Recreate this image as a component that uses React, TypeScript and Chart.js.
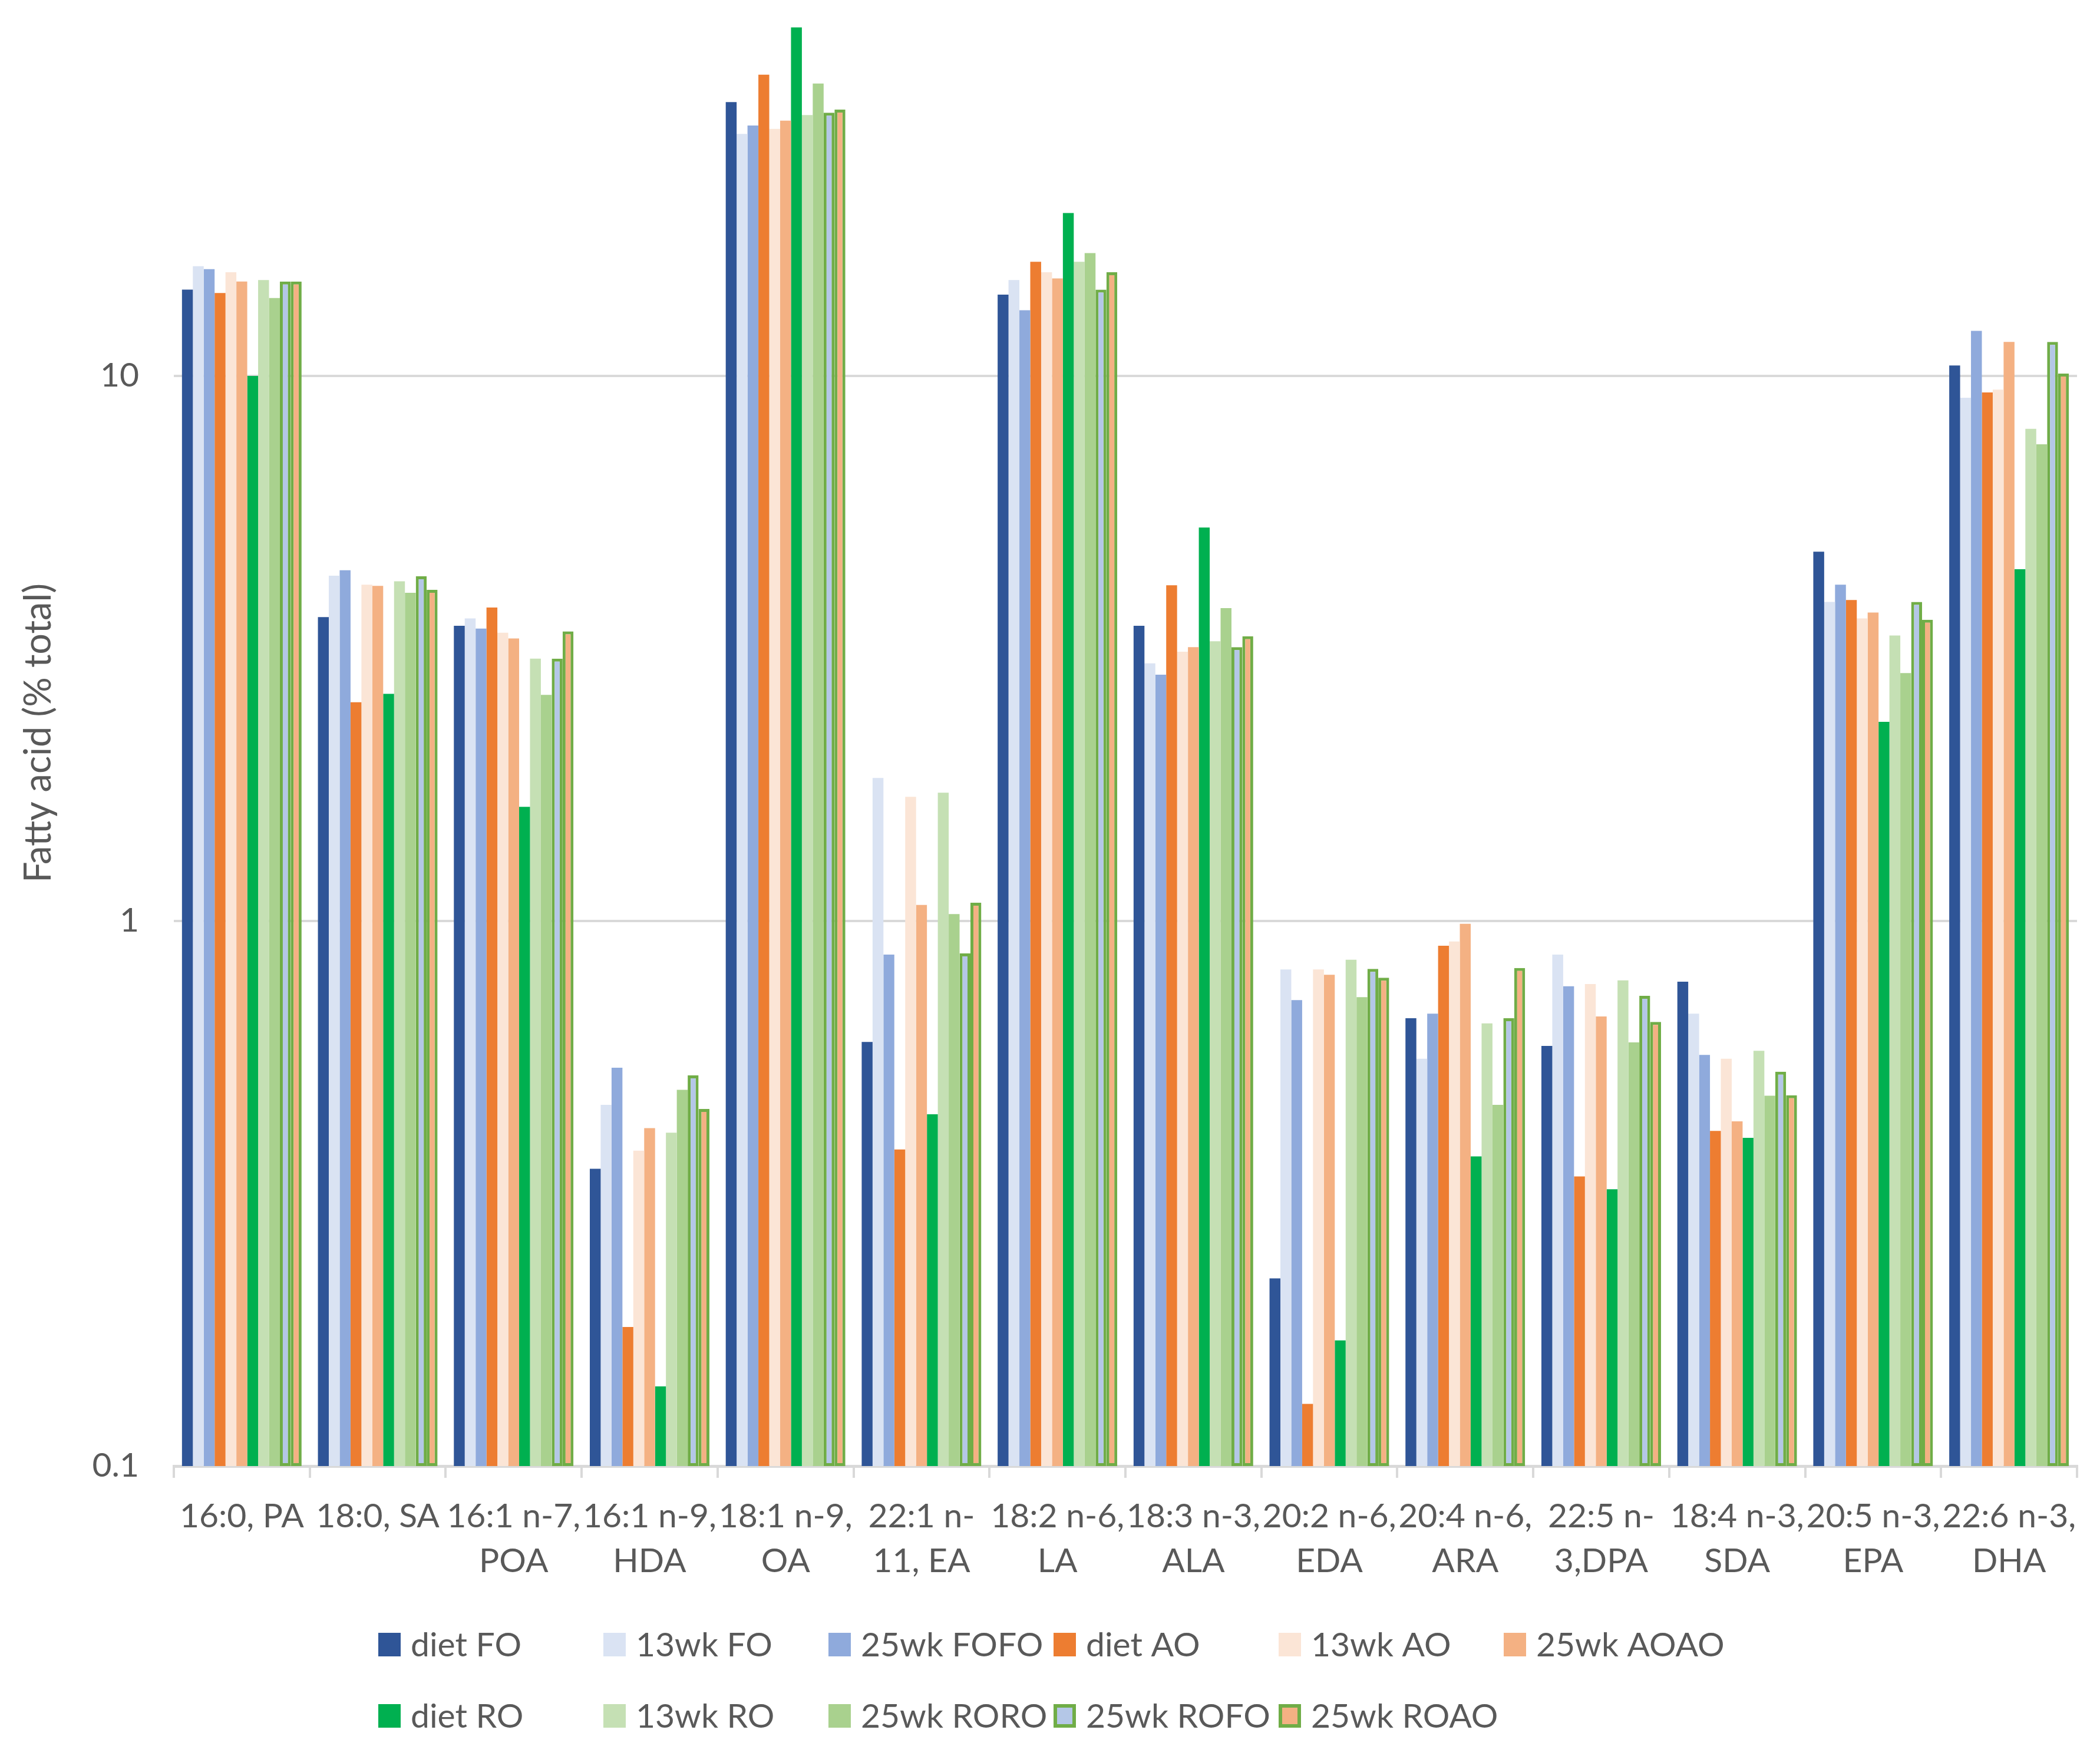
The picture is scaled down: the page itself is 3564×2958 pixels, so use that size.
import React, { useEffect, useRef } from "react";
import { Chart, registerables } from "chart.js";

Chart.register(...registerables);

const categories: (string | string[])[] = [
  "16:0, PA",
  "18:0, SA",
  ["16:1 n-7,", "POA"],
  ["16:1 n-9,", "HDA"],
  ["18:1 n-9,", "OA"],
  ["22:1 n-", "11, EA"],
  ["18:2 n-6,", "LA"],
  ["18:3 n-3,", "ALA"],
  ["20:2 n-6,", "EDA"],
  ["20:4 n-6,", "ARA"],
  ["22:5 n-", "3,DPA"],
  ["18:4 n-3,", "SDA"],
  ["20:5 n-3,", "EPA"],
  ["22:6 n-3,", "DHA"],
];

const dietFO = [14.4, 3.61, 3.48, 0.351, 31.8, 0.6, 14.1, 3.48, 0.221, 0.663, 0.59, 0.774, 4.76, 10.45];
const wk13FO = [15.9, 4.3, 3.59, 0.46, 27.8, 1.83, 15.0, 2.97, 0.815, 0.559, 0.868, 0.676, 3.85, 9.12];
const wk25FOFO = [15.7, 4.4, 3.44, 0.538, 28.8, 0.868, 13.2, 2.83, 0.716, 0.676, 0.759, 0.568, 4.14, 12.1];
const dietAO = [14.2, 2.52, 3.76, 0.18, 35.7, 0.381, 16.2, 4.13, 0.13, 0.901, 0.34, 0.412, 3.88, 9.33];
const wk13AO = [15.5, 4.14, 3.38, 0.379, 28.4, 1.69, 15.5, 3.12, 0.815, 0.917, 0.766, 0.559, 3.59, 9.44];
const wk25AOAO = [14.9, 4.12, 3.3, 0.417, 29.4, 1.07, 15.1, 3.18, 0.797, 0.988, 0.668, 0.429, 3.68, 11.55];
const dietRO = [10.0, 2.61, 1.62, 0.14, 43.6, 0.442, 19.9, 5.27, 0.17, 0.37, 0.322, 0.4, 2.32, 4.42];
const wk13RO = [15.0, 4.2, 3.03, 0.409, 30.1, 1.72, 16.2, 3.26, 0.849, 0.649, 0.778, 0.578, 3.34, 8.0];
const wk25RORO = [13.9, 4.0, 2.6, 0.49, 34.4, 1.03, 16.8, 3.75, 0.725, 0.46, 0.599, 0.478, 2.85, 7.49];
const wk25ROFO = [14.9, 4.29, 3.03, 0.521, 30.4, 0.872, 14.4, 3.18, 0.817, 0.663, 0.729, 0.529, 3.85, 11.55];
const wk25ROAO = [14.9, 4.05, 3.4, 0.452, 30.8, 1.08, 15.5, 3.33, 0.787, 0.82, 0.653, 0.479, 3.57, 10.1];

const seriesNames = [
  "diet FO", "13wk FO", "25wk FOFO", "diet AO", "13wk AO", "25wk AOAO",
  "diet RO", "13wk RO", "25wk RORO", "25wk ROFO", "25wk ROAO",
];
const seriesValues = [
  dietFO, wk13FO, wk25FOFO, dietAO, wk13AO, wk25AOAO,
  dietRO, wk13RO, wk25RORO, wk25ROFO, wk25ROAO,
];
const fillColors = [
  "#2F5597", "#DAE3F3", "#8FAADC", "#ED7D31", "#FBE5D6", "#F4B183",
  "#00B050", "#C5E0B4", "#A9D18E", "#B4C7E7", "#F4B183",
];
const outlineColors = [null, null, null, null, null, null, null, null, null, "#70AD47", "#70AD47"];

const yTickValues = [0.1, 1, 10];
const yTitle = "Fatty acid (% total)";

const W = 3564;
const H = 2958;
const FONT = "Lato";
const TEXT = "#595959";
const GRID = "#D9D9D9";

const gridLegend = {
  id: "gridLegend",
  afterDraw(chart: any) {
    const ctx = chart.ctx;
    const ds = chart.data.datasets;
    ctx.save();
    ctx.font = `57px ${FONT}`;
    ctx.textBaseline = "middle";
    ctx.textAlign = "left";
    ds.forEach((d: any, i: number) => {
      const row = i < 6 ? 0 : 1;
      const col = i < 6 ? i : i - 6;
      const x = 642 + col * 382;
      const yc = row === 0 ? 2791 : 2912;
      const bw = 38, bh = 40;
      ctx.fillStyle = d.backgroundColor;
      ctx.fillRect(x, yc - bh / 2, bw, bh);
      if (d.borderWidth && d.borderWidth > 0) {
        const lw = 6;
        ctx.strokeStyle = d.borderColor;
        ctx.lineWidth = lw;
        ctx.strokeRect(x + lw / 2, yc - bh / 2 + lw / 2, bw - lw, bh - lw);
      }
      ctx.fillStyle = TEXT;
      ctx.fillText(d.label, x + 55, yc + 2);
    });
    ctx.restore();
  },
};

export default function App() {
  const ref = useRef<HTMLCanvasElement>(null);

  useEffect(() => {
    document.body.style.margin = "0";
    document.body.style.overflow = "hidden";
    const canvas = ref.current;
    if (!canvas) return;
    const datasets = seriesNames.map((name, i) => {
      const outlined = outlineColors[i];
      return {
        label: name,
        data: seriesValues[i],
        backgroundColor: fillColors[i],
        borderColor: outlined ? outlined : "rgba(255,255,255,0)",
        borderWidth: outlined ? 5 : 0,
        borderSkipped: outlined ? false : "start",
        barPercentage: 1,
        categoryPercentage: 0.88,
      };
    });

    const chart = new Chart(canvas, {
      type: "bar",
      data: { labels: categories, datasets: datasets as any },
      plugins: [gridLegend],
      options: {
        animation: false,
        responsive: false,
        devicePixelRatio: 1,
        layout: { padding: { left: 0, right: 39, top: 0, bottom: 0 } },
        plugins: {
          legend: { display: false },
          tooltip: { enabled: false },
          title: { display: false },
        },
        scales: {
          x: {
            type: "category",
            offset: true,
            grid: {
              display: true,
              offset: true,
              drawOnChartArea: false,
              drawTicks: true,
              tickLength: 20,
              color: GRID,
              lineWidth: 4,
            },
            border: { display: true, color: GRID, width: 5 },
            ticks: {
              color: TEXT,
              font: { family: FONT, size: 57, lineHeight: 1.33 },
              padding: 28,
              maxRotation: 0,
              minRotation: 0,
              autoSkip: false,
            },
            afterFit: (s: any) => {
              s.height = H - 2488;
              s.paddingLeft = 0;
              s.paddingRight = 0;
            },
          },
          y: {
            type: "logarithmic",
            min: 0.1,
            max: 48.95,
            grid: {
              display: true,
              drawTicks: false,
              color: GRID,
              lineWidth: 4,
            },
            border: { display: false },
            ticks: {
              color: TEXT,
              font: { family: FONT, size: 57 },
              padding: 59,
              callback: (v: any) => String(v),
            },
            afterBuildTicks: (s: any) => {
              s.ticks = yTickValues.map((v) => ({ value: v }));
            },
            title: {
              display: true,
              text: yTitle,
              color: TEXT,
              font: { family: FONT, size: 63, lineHeight: 1.2 },
              padding: { top: 28, bottom: 0 },
            },
            afterFit: (s: any) => {
              s.width = 295;
              s.paddingTop = 0;
              s.paddingBottom = 0;
            },
          },
        },
      } as any,
    });
    return () => chart.destroy();
  }, []);

  return (
    <div style={{ position: "absolute", left: 0, top: 0, width: W, height: H, background: "#ffffff" }}>
      <canvas ref={ref} width={W} height={H} style={{ display: "block", width: W, height: H }} />
    </div>
  );
}
